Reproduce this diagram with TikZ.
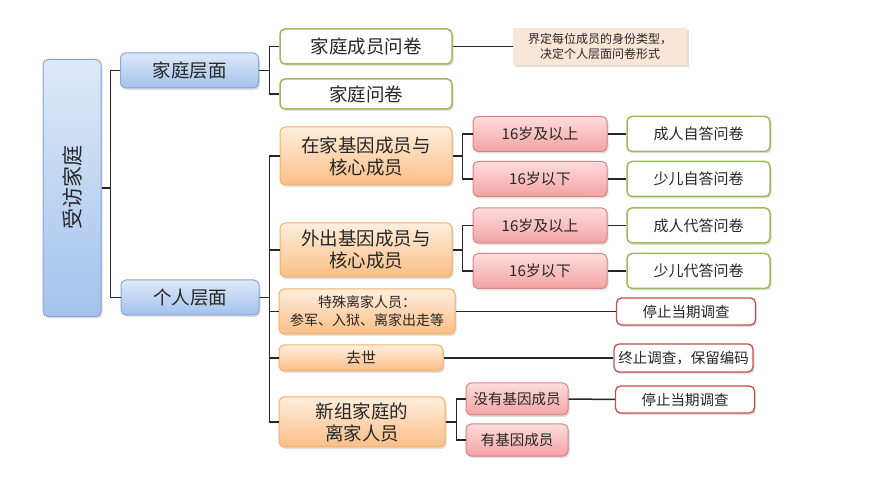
\documentclass[tikz,border=0pt]{standalone}
\usepackage{fontspec}
\setmainfont{Noto Sans CJK SC}
\usetikzlibrary{shadows}
\definecolor{bluetop}{HTML}{DDE9F8}
\definecolor{bluebot}{HTML}{A3C2EC}
\definecolor{blueline}{HTML}{86A7D6}
\definecolor{orgtop}{HTML}{FFEEDD}
\definecolor{orgbot}{HTML}{FBBE86}
\definecolor{orgline}{HTML}{F5AE66}
\definecolor{pinktop}{HTML}{FFDCDC}
\definecolor{pinkbot}{HTML}{F3A3A3}
\definecolor{pinkline}{HTML}{D98285}
\definecolor{greenline}{HTML}{9BBB59}
\definecolor{redline}{HTML}{C0504D}
\definecolor{notefill}{HTML}{FBE5D6}
\begin{document}
\begin{tikzpicture}[x=1pt,y=-1pt,
  box/.style={rounded corners=5pt,align=center,inner sep=1pt,text=black!85,
    drop shadow={shadow xshift=1.5pt,shadow yshift=-2pt,opacity=0.25}},
  bluebox/.style={box,draw=blueline,line width=1pt,top color=bluetop,bottom color=bluebot},
  orgbox/.style={box,draw=orgline,line width=1pt,top color=orgtop,bottom color=orgbot},
  pinkbox/.style={box,draw=pinkline,line width=1pt,top color=pinktop,bottom color=pinkbot,
    minimum width=134pt,minimum height=35pt,font=\fontsize{15}{18}\selectfont},
  greenbox/.style={box,draw=greenline,line width=1.5pt,fill=white,
    minimum width=143pt,minimum height=35pt,font=\fontsize{15}{18}\selectfont},
  redbox/.style={box,draw=redline,line width=1.3pt,fill=white,
    minimum width=139pt,minimum height=27pt,font=\fontsize{14.5}{17}\selectfont},
  link/.style={draw=black!85,line width=1.5pt}]
\useasboundingbox[fill=white] (0,0) rectangle (873,502);

% root and levels
\node[bluebox,minimum width=58pt,minimum height=257pt] (root) at (72,188) {};
\node[rotate=90,font=\fontsize{21}{24}\selectfont,text=black!85] (rootlabel) at (root.center) {受访家庭};
\node[bluebox,minimum width=138pt,minimum height=35pt,font=\fontsize{18.5}{22}\selectfont] (fam) at (189.5,70.5) {家庭层面};
\node[bluebox,minimum width=138pt,minimum height=35pt,font=\fontsize{18.5}{22}\selectfont] (ind) at (190,297.5) {个人层面};

% household questionnaires
\node[greenbox,minimum width=172pt,font=\fontsize{18.5}{22}\selectfont] (q1) at (366,46.5) {家庭成员问卷};
\node[greenbox,minimum width=172pt,minimum height=30pt,font=\fontsize{18.5}{22}\selectfont] (q2) at (366,94) {家庭问卷};
\node[box,fill=notefill,rounded corners=0pt,minimum width=174pt,minimum height=37pt,font=\fontsize{12}{15}\selectfont] (note) at (600,46.5) {界定每位成员的身份类型，\\决定个人层面问卷形式};

% individual types
\node[orgbox,minimum width=172pt,minimum height=58pt,font=\fontsize{18.5}{22}\selectfont] (home) at (366,156) {在家基因成员与\\核心成员};
\node[orgbox,minimum width=172pt,minimum height=54pt,font=\fontsize{18.5}{22}\selectfont] (away) at (366,250) {外出基因成员与\\核心成员};
\node[orgbox,minimum width=176pt,minimum height=45pt,font=\fontsize{14}{18}\selectfont] (spec) at (367,311.5) {特殊离家人员：\\参军、入狱、离家出走等};
\node[orgbox,minimum width=164pt,minimum height=26pt,font=\fontsize{15}{18}\selectfont] (dead) at (361,358) {去世};
\node[orgbox,minimum width=166pt,minimum height=50pt,font=\fontsize{18.5}{22}\selectfont] (newf) at (362,422) {新组家庭的\\离家人员};

% age groups
\node[pinkbox] (a1) at (540,134) {16岁及以上};
\node[pinkbox] (a2) at (540,179) {16岁以下};
\node[pinkbox] (b1) at (540,225.5) {16岁及以上};
\node[pinkbox] (b2) at (540,271) {16岁以下};
\node[pinkbox,minimum width=102pt,minimum height=32pt,font=\fontsize{14.5}{17}\selectfont] (ng) at (517,399) {没有基因成员};
\node[pinkbox,minimum width=102pt,minimum height=32pt,font=\fontsize{14.5}{17}\selectfont] (yg) at (517,440) {有基因成员};

% questionnaires and outcomes
\node[greenbox] (qa1) at (698.5,134) {成人自答问卷};
\node[greenbox] (qa2) at (698.5,179) {少儿自答问卷};
\node[greenbox] (qb1) at (698.5,225.5) {成人代答问卷};
\node[greenbox] (qb2) at (698.5,271) {少儿代答问卷};
\node[redbox] (stop1) at (686,311.5) {停止当期调查};
\node[redbox,minimum height=28pt] (quit) at (683.5,358) {终止调查，保留编码};
\node[redbox] (stop2) at (685,399.5) {停止当期调查};

% connectors
\draw[link] (root.east) -- ++(9,0) |- (fam.west);
\draw[link] (root.east) -- ++(9,0) |- (ind.west);
\draw[link] (fam.east) -- ++(10.5,0) |- (q1.west);
\draw[link] (fam.east) -- ++(10.5,0) |- (q2.west);
\draw[link] (q1.east) -- (note.west);
\draw[link] (ind.east) -- ++(10,0) |- (home.west);
\draw[link] (ind.east) -- ++(10,0) |- (away.west);
\draw[link] (ind.east) -- ++(10,0) |- (spec.west);
\draw[link] (ind.east) -- ++(10,0) |- (dead.west);
\draw[link] (ind.east) -- ++(10,0) |- (newf.west);
\draw[link] (home.east) -- ++(10,0) |- (a1.west);
\draw[link] (home.east) -- ++(10,0) |- (a2.west);
\draw[link] (away.east) -- ++(10,0) |- (b1.west);
\draw[link] (away.east) -- ++(10,0) |- (b2.west);
\draw[link] (newf.east) -- ++(11,0) |- (ng.west);
\draw[link] (newf.east) -- ++(11,0) |- (yg.west);
\draw[link] (a1.east) -- (qa1.west);
\draw[link] (a2.east) -- (qa2.west);
\draw[link] (b1.east) -- (qb1.west);
\draw[link] (b2.east) -- (qb2.west);
\draw[link] (spec.east) -- (stop1.west);
\draw[link] (dead.east) -- (quit.west);
\draw[link] (ng.east) -- (stop2.west);
\end{tikzpicture}
\end{document}
